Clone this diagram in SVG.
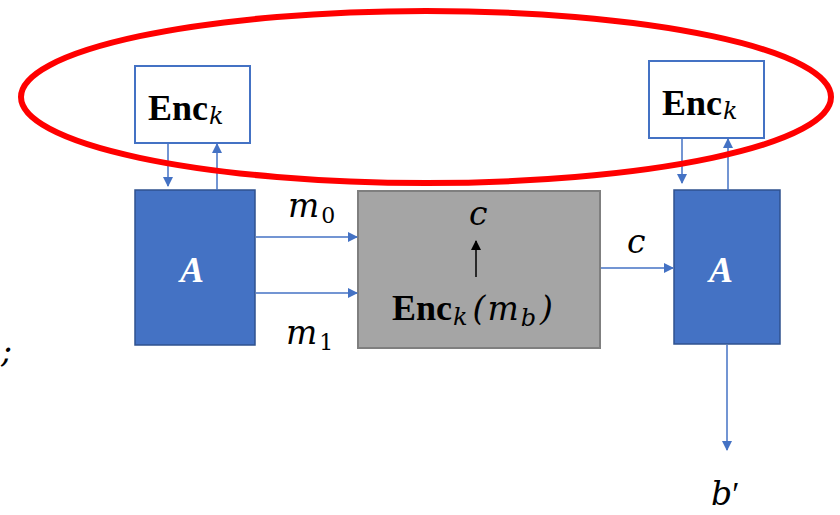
<svg xmlns="http://www.w3.org/2000/svg" width="840" height="515" viewBox="0 0 840 515">
<style>
.enc{fill:#fff;stroke:#4472c4;stroke-width:2}
.a{fill:#4472c4;stroke:#2f528f;stroke-width:1.5}
.ln{stroke:#4472c4;stroke-width:1.5;fill:none}
.m{font-family:"DejaVu Serif","Liberation Serif",serif;font-style:italic;font-weight:normal;font-size:33px;fill:#000}
.b{font-family:"Liberation Serif","DejaVu Serif",serif;font-weight:bold;font-size:36px;fill:#000}
.s{font-family:"DejaVu Serif","Liberation Serif",serif;font-style:italic;font-weight:normal;font-size:24px}
.d{font-family:"DejaVu Serif","Liberation Serif",serif;font-style:normal;font-weight:normal;font-size:22px}
.av{font-family:"Liberation Serif","DejaVu Serif",serif;font-style:italic;font-weight:bold;font-size:36px;fill:#fff}
</style>
<defs>
<marker id="ah" viewBox="0 0 10 10" refX="9" refY="5" markerWidth="10" markerHeight="10" markerUnits="userSpaceOnUse" orient="auto"><path d="M0,0L10,5L0,10z" fill="#4472c4"/></marker>
<marker id="ahk" viewBox="0 0 10 10" refX="9" refY="5" markerWidth="10" markerHeight="10" markerUnits="userSpaceOnUse" orient="auto"><path d="M0,0L10,5L0,10z" fill="#000"/></marker>
</defs>
<g id="encL"><rect class="enc" x="135" y="66" width="115" height="77"/><text x="148" y="120" class="b">Enc<tspan class="s" dx="1" dy="4">k</tspan></text></g>
<g id="encR"><rect class="enc" x="649" y="61" width="115" height="77"/><text x="662" y="115" class="b">Enc<tspan class="s" dx="1" dy="4">k</tspan></text></g>
<g id="AL"><rect class="a" x="135" y="190" width="120" height="155"/><text x="180" y="282" class="av">A</text></g>
<g id="AR"><rect class="a" x="674" y="190" width="106" height="154"/><text x="709" y="282" class="av">A</text></g>
<g id="challenger"><rect x="358" y="191" width="242" height="157" fill="#a5a5a5" stroke="#7f7f7f" stroke-width="2"/>
<text x="469" y="225" class="m">c</text>
<text x="392" y="320" class="b">Enc<tspan class="s" dx="1" dy="5">k</tspan><tspan class="m" dx="5" dy="-5">(</tspan><tspan class="m" dx="2">m</tspan><tspan class="s" dx="2" dy="6">b</tspan><tspan class="m" dx="4" dy="-6">)</tspan></text>
<line x1="476" y1="277" x2="476" y2="241" stroke="#000" stroke-width="1.5" marker-end="url(#ahk)"/></g>
<g id="connectors">
<line class="ln" x1="168" y1="143" x2="168" y2="186" marker-end="url(#ah)"/>
<line class="ln" x1="217" y1="190" x2="217" y2="144" marker-end="url(#ah)"/>
<line class="ln" x1="682" y1="138" x2="682" y2="183" marker-end="url(#ah)"/>
<line class="ln" x1="728" y1="190" x2="728" y2="139" marker-end="url(#ah)"/>
<line class="ln" x1="256" y1="237" x2="357" y2="237" marker-end="url(#ah)"/>
<line class="ln" x1="256" y1="293" x2="357" y2="293" marker-end="url(#ah)"/>
<line class="ln" x1="601" y1="268" x2="673" y2="268" marker-end="url(#ah)"/>
<line class="ln" x1="727" y1="345" x2="727" y2="450" marker-end="url(#ah)"/>
</g>
<g id="labels">
<text x="288" y="217" class="m">m<tspan class="d" dx="2" dy="6">0</tspan></text>
<text x="286" y="344" class="m">m<tspan class="d" dx="2" dy="6">1</tspan></text>
<text x="627" y="253" class="m">c</text>
<text x="711" y="505" class="m">b<tspan font-family="Liberation Serif, serif" font-style="normal">′</tspan></text>
<text x="1" y="362" class="m">;</text>
</g>
<ellipse cx="426" cy="97" rx="405" ry="86" fill="none" stroke="#ff0000" stroke-width="6"/>
</svg>
